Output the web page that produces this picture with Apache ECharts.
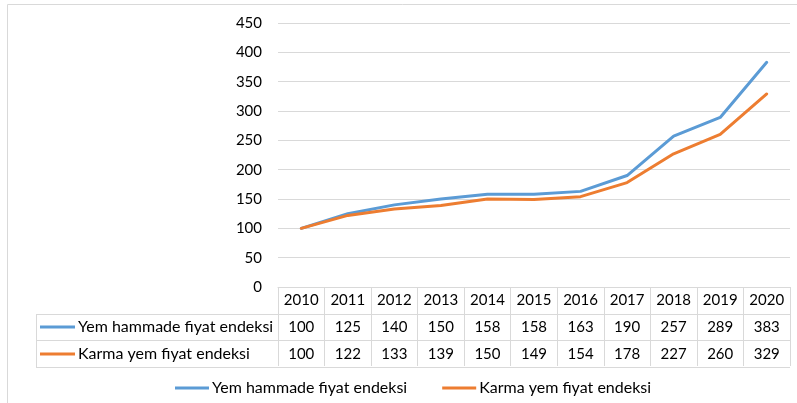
<!DOCTYPE html>
<html>
<head>
<meta charset="utf-8">
<script src="https://cdn.jsdelivr.net/npm/echarts@6/dist/echarts.min.js"></script>
<style>
  html, body { margin: 0; padding: 0; background: #fff; }
  #main { width: 797px; height: 403px; }
</style>
</head>
<body>
<div id="main"></div>
<script>
// veriler
var years = ['2010','2011','2012','2013','2014','2015','2016','2017','2018','2019','2020'];
var hammadde = [100, 125, 140, 150, 158, 158, 163, 190, 257, 289, 383];
var karma = [100, 122, 133, 139, 150, 149, 154, 178, 227, 260, 329];
var yTicks = [0, 450, 50]; // min, max, aralik

var FONT = 'Lato';
var GRIDC = '#D9D9D9';

var chart = echarts.init(document.getElementById('main'));

var option = {
    animation: false,
    color: ['#5B9BD5', '#ED7D31'],
    textStyle: { fontFamily: FONT, color: '#000' },
    grid: { left: 278, right: 7, top: 23, bottom: 116, containLabel: false },
    // alttaki gosterge
    legend: [
        {
            data: ['Yem hammade fiyat endeksi', 'Karma yem fiyat endeksi'],
            top: 380,
            left: 175,
            padding: 0,
            itemWidth: 34,
            itemHeight: 3,
            itemGap: 35,
            icon: 'rect',
            textStyle: { fontFamily: FONT, fontSize: 16, color: '#000', padding: [0, 0, 0, -2], lineHeight: 16 }
        },
        // tablo icindeki satir basliklari
        {
            data: ['Yem hammade fiyat endeksi', 'Karma yem fiyat endeksi'],
            orient: 'vertical',
            left: 40,
            top: 319,
            padding: 0,
            itemWidth: 35,
            itemHeight: 3,
            itemGap: 11,
            icon: 'rect',
            selectedMode: false,
            textStyle: { fontFamily: FONT, fontSize: 16, color: '#000', padding: [0, 0, 0, -2], lineHeight: 16 }
        }
    ],
    xAxis: [
        {
            type: 'category',
            data: years,
            boundaryGap: true,
            axisLine: { show: true, lineStyle: { color: GRIDC, width: 1 } },
            axisTick: { show: true, length: 79, lineStyle: { color: GRIDC, width: 1 } },
            axisLabel: { fontFamily: FONT, fontSize: 15, color: '#000', margin: 6 }
        },
        {
            type: 'category',
            data: years,
            position: 'bottom',
            offset: 27,
            axisLine: { show: false },
            axisTick: { show: false },
            axisLabel: {
                fontFamily: FONT, fontSize: 15, color: '#000', margin: 6,
                formatter: function (v, i) { return String(hammadde[i]); }
            }
        },
        {
            type: 'category',
            data: years,
            position: 'bottom',
            offset: 54,
            axisLine: { show: false },
            axisTick: { show: false },
            axisLabel: {
                fontFamily: FONT, fontSize: 15, color: '#000', margin: 6,
                formatter: function (v, i) { return String(karma[i]); }
            }
        }
    ],
    yAxis: {
        type: 'value',
        min: yTicks[0],
        max: yTicks[1],
        interval: yTicks[2],
        axisLine: { show: false },
        axisTick: { show: false },
        splitLine: { lineStyle: { color: GRIDC, width: 1 } },
        axisLabel: { fontFamily: FONT, fontSize: 15, color: '#000', margin: 16 }
    },
    series: [
        {
            name: 'Yem hammade fiyat endeksi',
            type: 'line',
            data: hammadde,
            xAxisIndex: 0,
            symbol: 'none',
            lineStyle: { width: 3, cap: 'round', join: 'round' }
        },
        {
            name: 'Karma yem fiyat endeksi',
            type: 'line',
            data: karma,
            xAxisIndex: 0,
            symbol: 'none',
            lineStyle: { width: 3, cap: 'round', join: 'round' }
        }
    ]
};

chart.setOption(option);

// tablo cizgileri ve dis cerceve
var x0 = chart.convertToPixel({ xAxisIndex: 0 }, years[0]);
var step = chart.convertToPixel({ xAxisIndex: 0 }, years[1]) - x0;
var tLeft = Math.round(x0 - step / 2);
var tRight = Math.round(tLeft + step * years.length);
var yBase = Math.round(chart.convertToPixel({ yAxisIndex: 0 }, 0));
var rowH = 26.5;
var hl = function (x1, x2, y) {
    return { type: 'line', silent: true, shape: { x1: x1, y1: y + 0.5, x2: x2, y2: y + 0.5 }, style: { stroke: GRIDC, lineWidth: 1 } };
};
chart.setOption({
    graphic: [
        hl(36, tRight, Math.round(yBase + rowH)),
        hl(36, tRight, Math.round(yBase + rowH * 2)),
        hl(36, tRight, Math.round(yBase + rowH * 3)),
        { type: 'line', silent: true, shape: { x1: 36.5, y1: Math.round(yBase + rowH), x2: 36.5, y2: Math.round(yBase + rowH * 3) }, style: { stroke: GRIDC, lineWidth: 1 } },
        { type: 'rect', silent: true, z: -1, shape: { x: 7.5, y: 4.5, width: 800, height: 410 }, style: { fill: null, stroke: GRIDC, lineWidth: 1 } }
    ]
});
</script>
</body>
</html>
